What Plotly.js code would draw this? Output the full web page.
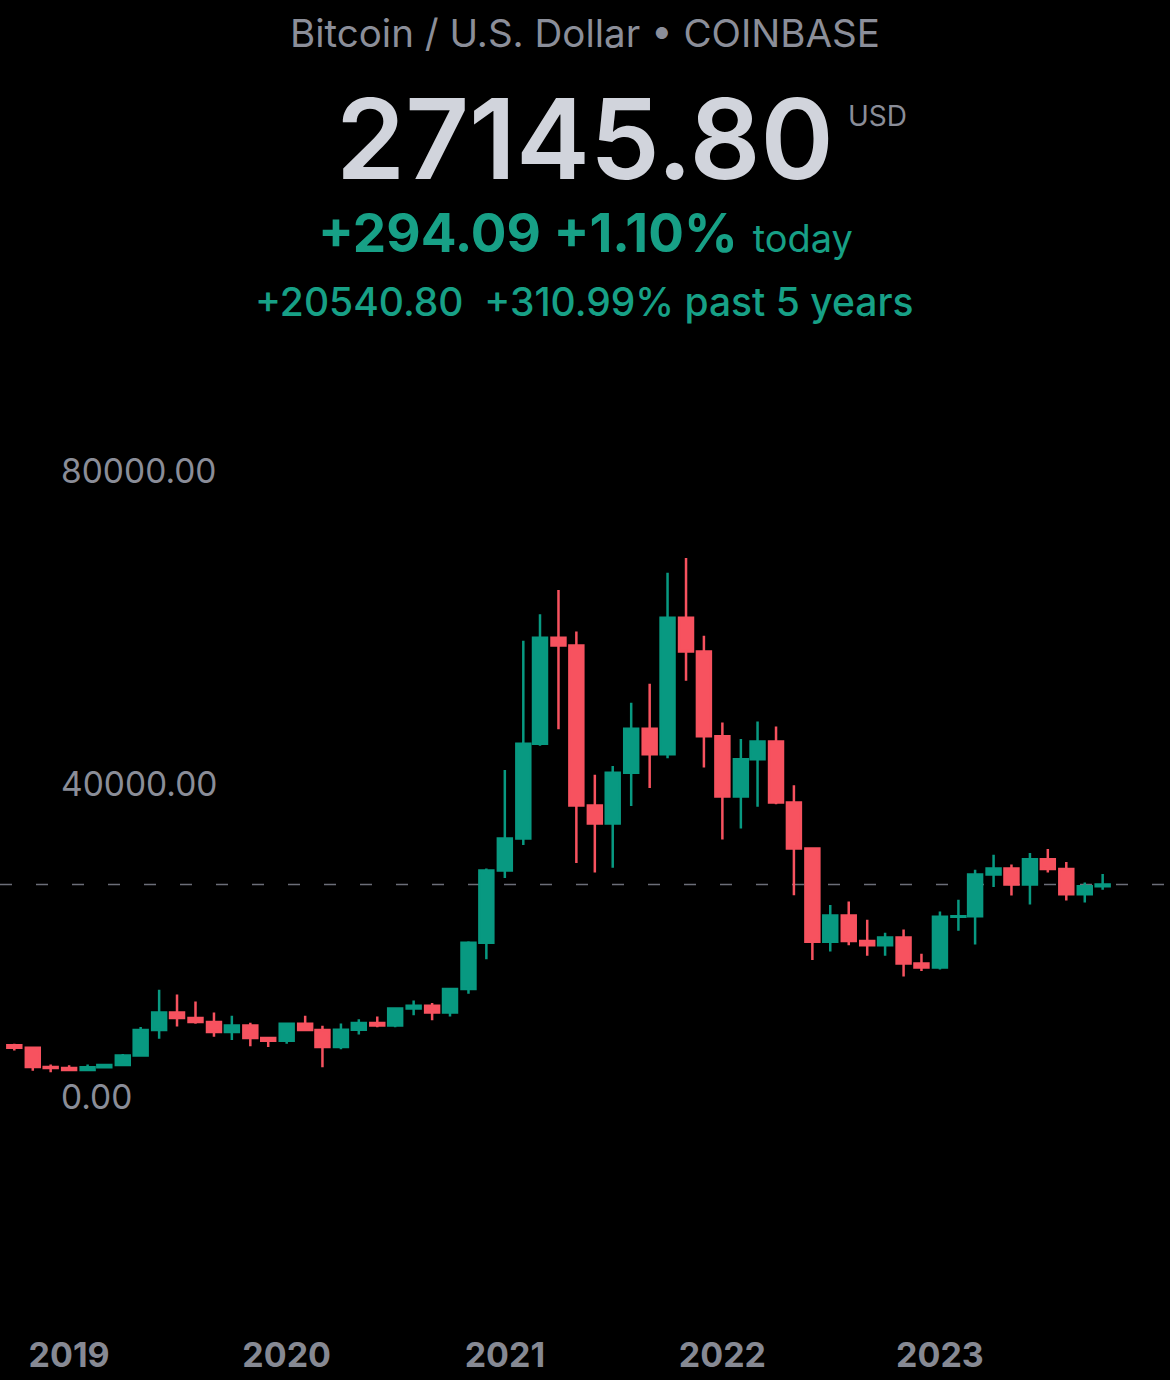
<!DOCTYPE html>
<html><head><meta charset="utf-8">
<script src="https://cdn.plot.ly/plotly-3.0.1.min.js"></script>
<style>html,body{margin:0;padding:0;background:#000;}#chart{width:1170px;height:1380px;}</style>
</head><body><div id="chart"></div>
<script>
const months = ["2018-10-01","2018-11-01","2018-12-01",
"2019-01-01","2019-02-01","2019-03-01","2019-04-01","2019-05-01","2019-06-01","2019-07-01","2019-08-01","2019-09-01","2019-10-01","2019-11-01","2019-12-01",
"2020-01-01","2020-02-01","2020-03-01","2020-04-01","2020-05-01","2020-06-01","2020-07-01","2020-08-01","2020-09-01","2020-10-01","2020-11-01","2020-12-01",
"2021-01-01","2021-02-01","2021-03-01","2021-04-01","2021-05-01","2021-06-01","2021-07-01","2021-08-01","2021-09-01","2021-10-01","2021-11-01","2021-12-01",
"2022-01-01","2022-02-01","2022-03-01","2022-04-01","2022-05-01","2022-06-01","2022-07-01","2022-08-01","2022-09-01","2022-10-01","2022-11-01","2022-12-01",
"2023-01-01","2023-02-01","2023-03-01","2023-04-01","2023-05-01","2023-06-01","2023-07-01","2023-08-01","2023-09-01","2023-10-01"];
const opens = [6605,6300,3850,
3700,3450,3800,4100,5300,8550,10800,10100,9600,8300,9150,7550,
7200,9350,8550,6400,8600,9450,9150,11300,11650,10800,13800,19700,
28950,33050,45150,58700,57700,37250,34950,41450,47050,43800,61250,56950,
46100,38400,43150,45450,37650,31750,19850,23200,19950,19400,20400,17050,
16550,23050,23100,28450,29200,27150,30400,29150,25900,26950];
const highs = [6800,6450,4150,
4050,4150,4100,5500,8950,13700,13100,12200,10800,10400,9500,7700,
9500,10400,9100,9400,9950,10300,11400,12350,12000,13900,19900,29200,
41800,58300,61700,64800,59500,41200,42300,50400,52800,67000,68900,58950,
47850,45750,48000,47350,39850,31850,24550,25000,22650,21000,21400,18300,
23700,25200,29050,30950,29700,31200,31700,30050,27400,28500];
const lows = [5950,3350,3150,
3400,3400,3700,4050,5250,7450,9000,9350,7700,7300,6500,6400,
6800,8450,3800,6100,8000,8900,8900,10450,9800,10300,13200,17600,
28000,32200,44900,47000,29900,28700,29300,37200,39500,43300,53200,42100,
32900,34300,37100,37400,25800,17500,18600,19400,18050,18050,15400,16100,
16300,21250,19500,26850,25750,24600,28700,25100,24850,26500];
const closes = [6300,3850,3700,
3450,3800,4100,5300,8550,10800,10100,9600,8300,9150,7550,7200,
9350,8550,6400,8600,9450,9150,11300,11650,10800,13800,19700,28950,
33050,45150,58700,57700,37250,34950,41450,47050,43800,61250,56950,46100,
38400,43150,45450,37650,31750,19850,23200,19950,19400,20400,17050,16550,
23050,23100,28450,29200,27150,30400,29150,25900,26950,27145.80];
const yearTicks = ["2019-01-01","2020-01-01","2021-01-01","2022-01-01","2023-01-01"];
const priceTicks = [0, 40000, 80000];

const UP = '#089981', DOWN = '#f7525f', TEAL = '#17a086';
const FONT = 'Inter';
const W = 1170, H = 1380, T = 360, B = 70;
const plotH = H - T - B;
const py = px => (H - B - px) / plotH;

const trace = {
  type: 'candlestick', x: months, open: opens, high: highs, low: lows, close: closes,
  increasing: {line: {color: UP, width: 2.5}, fillcolor: UP},
  decreasing: {line: {color: DOWN, width: 2.5}, fillcolor: DOWN},
  whiskerwidth: 0, hoverinfo: 'skip'
};

const layout = {
  width: W, height: H,
  margin: {l: 0, r: 0, t: T, b: B},
  paper_bgcolor: '#000', plot_bgcolor: '#000',
  showlegend: false,
  boxgap: 0.12, boxgroupgap: 0.05,
  title: {text: 'Bitcoin / U.S. Dollar \u2022 COINBASE', x: 585/W, xanchor: 'center', y: 1 - 34/H, yref: 'container', yanchor: 'middle',
          font: {family: FONT, size: 38.5, color: '#8b8e99'}},
  xaxis: {type: 'date', range: ['2018-09-07', '2024-01-22'], tickvals: yearTicks, tickformat: '%Y',
          showgrid: false, zeroline: false, showline: false, ticks: '', ticklabelstandoff: 22,
          tickfont: {family: FONT, size: 34, weight: 'bold', color: '#868993'},
          rangeslider: {visible: false}, fixedrange: true},
  yaxis: {range: [-27220, 94190], tickvals: priceTicks, tickformat: '.2f',
          anchor: 'free', position: 60/W, side: 'right', ticklabelposition: 'outside',
          showgrid: false, zeroline: false, showline: false, ticks: '',
          tickfont: {family: FONT, size: 33.5, color: '#8a8d98'}, fixedrange: true},
  shapes: [{type: 'line', xref: 'paper', x0: 0, x1: 1, yref: 'y', y0: closes[closes.length-1], y1: closes[closes.length-1],
            line: {color: '#6b6e78', width: 1.5, dash: '12px,24px'}, layer: 'below'}],
  annotations: [
    {xref: 'paper', yref: 'paper', x: 585/W, y: py(139), xanchor: 'center', yanchor: 'middle', showarrow: false,
     text: closes[closes.length-1].toFixed(2), font: {family: FONT, size: 111, weight: 600, color: '#d1d4dc'}},
    {xref: 'paper', yref: 'paper', x: 877/W, y: py(116), xanchor: 'center', yanchor: 'middle', showarrow: false,
     text: 'USD', font: {family: FONT, size: 28, color: '#8a8d98'}},
    {xref: 'paper', yref: 'paper', x: 585/W, y: py(233), xanchor: 'center', yanchor: 'middle', showarrow: false,
     text: '<b>+294.09 +1.10%</b> <span style="font-size:38px">today</span>', font: {family: FONT, size: 53, color: TEAL}},
    {xref: 'paper', yref: 'paper', x: 584/W, y: py(302), xanchor: 'center', yanchor: 'middle', showarrow: false,
     text: '+20540.80  +310.99% past 5 years', font: {family: FONT, size: 39, weight: 500, color: TEAL}}
  ]
};

Plotly.newPlot('chart', [trace], layout, {displayModeBar: false, staticPlot: true});
</script>
</body></html>
